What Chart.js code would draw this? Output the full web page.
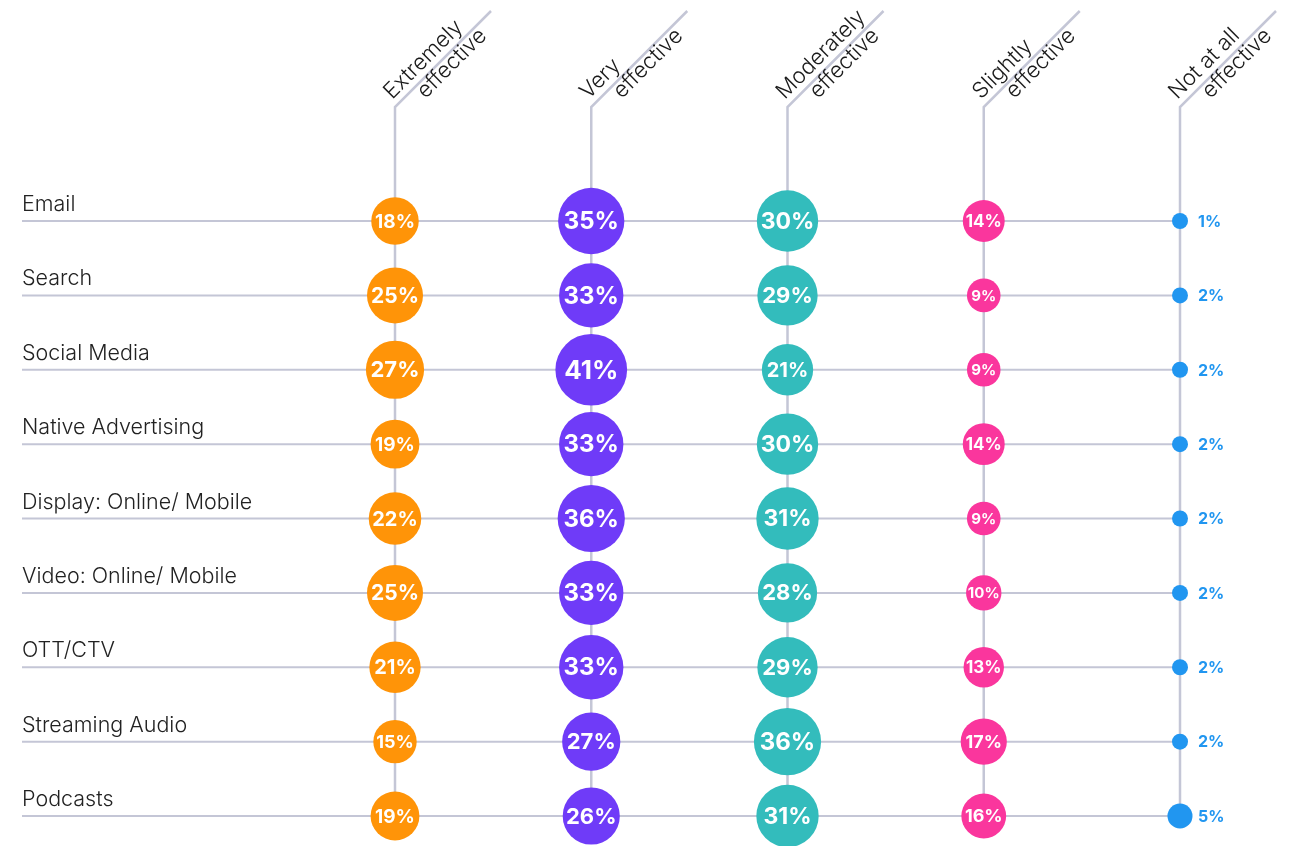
<!DOCTYPE html>
<html>
<head>
<meta charset="utf-8">
<script src="https://cdn.jsdelivr.net/npm/chart.js@4/dist/chart.umd.min.js"></script>
<style>
  body { margin: 0; background: #fff; }
  #wrap { width: 1295px; height: 846px; position: relative; }
</style>
</head>
<body>
<div id="wrap"><canvas id="chart"></canvas></div>
<script>
const channels = ['Email', 'Search', 'Social Media', 'Native Advertising', 'Display: Online/ Mobile',
  'Video: Online/ Mobile', 'OTT/CTV', 'Streaming Audio', 'Podcasts']
const ratings = [['Extremely', 'effective'], ['Very', 'effective'], ['Moderately', 'effective'],
  ['Slightly', 'effective'], ['Not at all', 'effective']]

const extremely  = [18, 25, 27, 19, 22, 25, 21, 15, 19]
const very       = [35, 33, 41, 33, 36, 33, 33, 27, 26]
const moderately = [30, 29, 21, 30, 31, 28, 29, 36, 31]
const slightly   = [14, 9, 9, 14, 9, 10, 13, 17, 16]
const notAtAll   = [1, 2, 2, 2, 2, 2, 2, 2, 5]

const colors = ['#ff9408', '#6f3bf8', '#33bcbc', '#fa369d', '#2196f0']
const lineColor = '#c4c6d6'
const labelFont = '300 21.5px Inter'
const headFont = '300 22px Inter'

// bubble size grows with area, small ones keep a minimum dot
const radius = v => Math.max(8, 5.6 * Math.sqrt(v))

const series = [extremely, very, moderately, slightly, notAtAll]
const datasets = series.map((values, col) => ({
  label: ratings[col].join(' '),
  data: values.map((v, row) => ({ x: col, y: row, r: radius(v), v })),
  backgroundColor: colors[col],
  borderWidth: 0,
  clip: false
}))

const gridPlugin = {
  id: 'grid',
  beforeDatasetsDraw(chart) {
    const { ctx, scales: { x, y } } = chart
    const lastX = x.getPixelForValue(ratings.length - 1)
    const firstY = y.getPixelForValue(0)
    const lastY = y.getPixelForValue(channels.length - 1)
    const top = firstY - 114
    ctx.save()
    ctx.strokeStyle = lineColor
    ctx.lineWidth = 2
    channels.forEach((name, i) => {
      const py = y.getPixelForValue(i)
      ctx.beginPath()
      ctx.moveTo(22, py)
      ctx.lineTo(lastX, py)
      ctx.stroke()
      ctx.fillStyle = '#222'
      ctx.font = labelFont
      ctx.textAlign = 'left'
      ctx.textBaseline = 'alphabetic'
      ctx.fillText(name, 22, py - 10)
    })
    ctx.lineWidth = 2.5
    ratings.forEach((lines, j) => {
      const px = x.getPixelForValue(j)
      ctx.beginPath()
      ctx.moveTo(px, lastY)
      ctx.lineTo(px, top)
      ctx.lineTo(px + 96, top - 96)
      ctx.stroke()
      ctx.save()
      ctx.translate(px, top)
      ctx.rotate(-Math.PI / 4)
      ctx.fillStyle = '#1a1a1a'
      ctx.font = headFont
      ctx.textAlign = 'left'
      ctx.textBaseline = 'alphabetic'
      ctx.fillText(lines[0], 3, -7)
      ctx.fillText(lines[1], 27, 16)
      ctx.restore()
    })
    ctx.restore()
  },
  afterDatasetsDraw(chart) {
    const { ctx } = chart
    ctx.save()
    ctx.textBaseline = 'middle'
    chart.data.datasets.forEach((ds, i) => {
      const meta = chart.getDatasetMeta(i)
      meta.data.forEach((el, k) => {
        const d = ds.data[k]
        const text = d.v + '%'
        if (i === ratings.length - 1) {
          ctx.fillStyle = colors[i]
          ctx.font = 'bold 16px Inter'
          ctx.textAlign = 'left'
          ctx.fillText(text, el.x + Math.max(d.r + 5, 18), el.y + 1)
        } else {
          ctx.fillStyle = '#fff'
          ctx.font = 'bold ' + Math.round(0.58 * d.r + 5) + 'px Inter'
          ctx.textAlign = 'center'
          ctx.fillText(text, el.x, el.y + 1)
        }
      })
    })
    ctx.restore()
  }
}

new Chart(document.getElementById('chart'), {
  type: 'bubble',
  data: { datasets },
  options: {
    responsive: true,
    maintainAspectRatio: false,
    animation: false,
    events: [],
    layout: { autoPadding: false, padding: { left: 395, right: 115, top: 221, bottom: 30 } },
    scales: {
      x: { type: 'linear', min: 0, max: ratings.length - 1, display: false },
      y: { type: 'linear', min: 0, max: channels.length - 1, reverse: true, display: false }
    },
    plugins: { legend: { display: false }, tooltip: { enabled: false } }
  },
  plugins: [gridPlugin]
})
</script>
</body>
</html>
